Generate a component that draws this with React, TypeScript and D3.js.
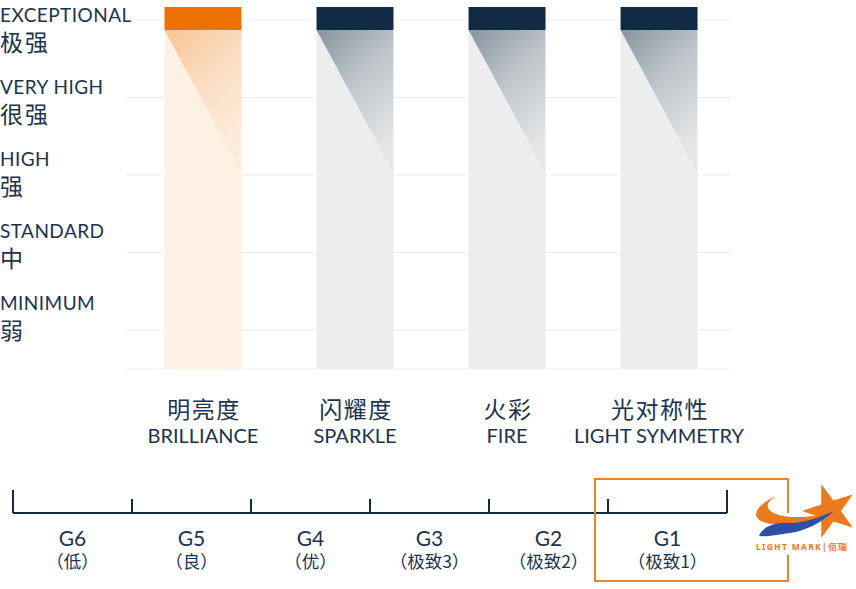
import React from "react";
import * as d3 from "d3";

const levels = ["EXCEPTIONAL", "VERY HIGH", "HIGH", "STANDARD", "MINIMUM"];
const levelsZh = ["极强", "很强", "强", "中", "弱"];
const categoriesZh = ["明亮度", "闪耀度", "火彩", "光对称性"];
const categoriesEn = ["BRILLIANCE", "SPARKLE", "FIRE", "LIGHT SYMMETRY"];
const categoryValues = ["EXCEPTIONAL", "EXCEPTIONAL", "EXCEPTIONAL", "EXCEPTIONAL"];
const highlightedCategory = "BRILLIANCE";
const grades = ["G6", "G5", "G4", "G3", "G2", "G1"];
const gradesZh = ["（低）", "（良）", "（优）", "（极致3）", "（极致2）", "（极致1）"];
const selectedGrade = "G1";

const W = 856;
const H = 589;
const NAVY = "#112b45";
const TEXT = "#1b3250";
const ORANGE = "#ee7203";
const FONT_EN = "Lato, 'Noto Sans', sans-serif";
const FONT_ZH = "'Noto Sans CJK SC', sans-serif";

export default function App() {
  const chartBottom = 369;
  const y = d3.scalePoint<string>().domain(levels).range([20, 330]);
  const labelY = d3.scalePoint<string>().domain(levels).range([22, 310]);
  const x = d3
    .scaleBand<string>()
    .domain(categoriesEn)
    .range([164.5, 697.5])
    .paddingInner(0.494)
    .paddingOuter(0);
  const bw = x.bandwidth();
  const gx = d3.scaleBand<string>().domain(grades).range([13, 727]);
  const gbw = gx.bandwidth();
  const axisY = 513;
  const gEnd = (gx(grades[grades.length - 1]) ?? 0) + gbw;

  const star = (cx: number, cy: number, R: number, r: number, rot: number) => {
    const pts = d3.range(10).map((i) => {
      const a = ((rot + i * 36) * Math.PI) / 180;
      const rad = i % 2 === 0 ? R : r;
      return [cx + rad * Math.sin(a), cy - rad * Math.cos(a)] as [number, number];
    });
    return d3.line()(pts) + "Z";
  };

  const sx = gx(selectedGrade) ?? 0;

  return (
    <svg
      width={W}
      height={H}
      style={{ position: "absolute", left: 0, top: 0, background: "#fff" }}
    >
      <defs>
        <linearGradient id="gNavy" x1="0" y1="0" x2="0.5" y2="1">
          <stop offset="0" stopColor={NAVY} stopOpacity={0.46} />
          <stop offset="0.5" stopColor={NAVY} stopOpacity={0.2} />
          <stop offset="1" stopColor={NAVY} stopOpacity={0.04} />
        </linearGradient>
        <linearGradient id="gOrange" x1="0" y1="0" x2="0.5" y2="1">
          <stop offset="0" stopColor={ORANGE} stopOpacity={0.36} />
          <stop offset="0.5" stopColor={ORANGE} stopOpacity={0.15} />
          <stop offset="1" stopColor={ORANGE} stopOpacity={0.04} />
        </linearGradient>
      </defs>

      {/* gridlines */}
      {levels.map((l) => (
        <line key={l} x1={127} x2={730} y1={y(l)} y2={y(l)} stroke="#ececec" strokeWidth={1} />
      ))}
      <line x1={127} x2={730} y1={chartBottom} y2={chartBottom} stroke="#efefef" strokeWidth={1} />

      {/* bars */}
      {categoriesEn.map((c, i) => {
        const hi = c === highlightedCategory;
        const x0 = x(c) ?? 0;
        const top = (y(categoryValues[i]) ?? 0) - 13;
        const capB = top + 23;
        const triB = (y("HIGH") ?? 0) - 2;
        return (
          <g key={c}>
            <rect x={x0} y={top} width={bw} height={chartBottom - top} fill={hi ? "#fdf1e4" : "#ededed"} />
            <path
              d={`M${x0},${capB}L${x0 + bw},${capB}L${x0 + bw},${triB}Z`}
              fill={hi ? "url(#gOrange)" : "url(#gNavy)"}
            />
            <rect x={x0} y={top} width={bw} height={23} fill={hi ? ORANGE : NAVY} />
          </g>
        );
      })}

      {/* y labels */}
      {levels.map((l, i) => (
        <g key={l} fill={TEXT}>
          <text x={0} y={labelY(l)} fontFamily={FONT_EN} fontSize={19} letterSpacing={0.45}>
            {l}
          </text>
          <text x={0} y={(labelY(l) ?? 0) + 29} fontFamily={FONT_ZH} fontSize={23} letterSpacing={2}>
            {levelsZh[i]}
          </text>
        </g>
      ))}

      {/* category labels */}
      {categoriesEn.map((c, i) => {
        const cx = (x(c) ?? 0) + bw / 2;
        return (
          <g key={c} fill={TEXT} textAnchor="middle">
            <text x={cx + 1} y={418} fontFamily={FONT_ZH} fontSize={23} letterSpacing={1.5}>
              {categoriesZh[i]}
            </text>
            <text x={cx} y={443} fontFamily={FONT_EN} fontSize={20} letterSpacing={0}>
              {c}
            </text>
          </g>
        );
      })}

      {/* grade axis */}
      <line x1={gx(grades[0])} x2={gEnd} y1={axisY} y2={axisY} stroke={NAVY} strokeWidth={2} />
      {grades.map((g, i) => {
        const x0 = gx(g) ?? 0;
        return (
          <line key={g} x1={x0} x2={x0} y1={i === 0 ? 490 : 499} y2={axisY} stroke={NAVY} strokeWidth={2} />
        );
      })}
      <line x1={gEnd} x2={gEnd} y1={490} y2={axisY} stroke={NAVY} strokeWidth={2} />
      {grades.map((g, i) => {
        const cx = (gx(g) ?? 0) + gbw / 2;
        return (
          <g key={g} fill={TEXT} textAnchor="middle">
            <text x={cx} y={546} fontFamily={FONT_EN} fontSize={21}>
              {g}
            </text>
            <text x={cx} y={568} fontFamily={FONT_ZH} fontSize={17.5}>
              {gradesZh[i]}
            </text>
          </g>
        );
      })}

      {/* selected grade box */}
      <rect x={sx - 13} y={479} width={gbw + 74} height={102} fill="none" stroke="#e8852f" strokeWidth={2} />

      {/* logo */}
      <g>
        <rect x={768} y={513} width={42} height={42} fill="#fff" />
        <path d={star(830, 511, 28, 11, -18)} fill="#ec7a1c" />
        <path
          d="M776,496 C750,508 750,522 773,524 C796,527 821,519 839,511 C815,517 792,519 779,515 C765,511 764,503 776,496 Z"
          fill="#ec7a1c"
        />
        <path
          d="M759,536 C763,526 776,522 790,523 C806,523 822,516 834,511 C822,522 806,531 790,533 C776,535 765,537 759,536 Z"
          fill="#2f4fa7"
        />
        <text x={756} y={550} fontFamily="'Noto Sans', sans-serif" fontSize={8.5} fontWeight={700} fill="#ec7a1c" letterSpacing={1.3}>
          LIGHT MARK|佰瑞
        </text>
      </g>
    </svg>
  );
}
